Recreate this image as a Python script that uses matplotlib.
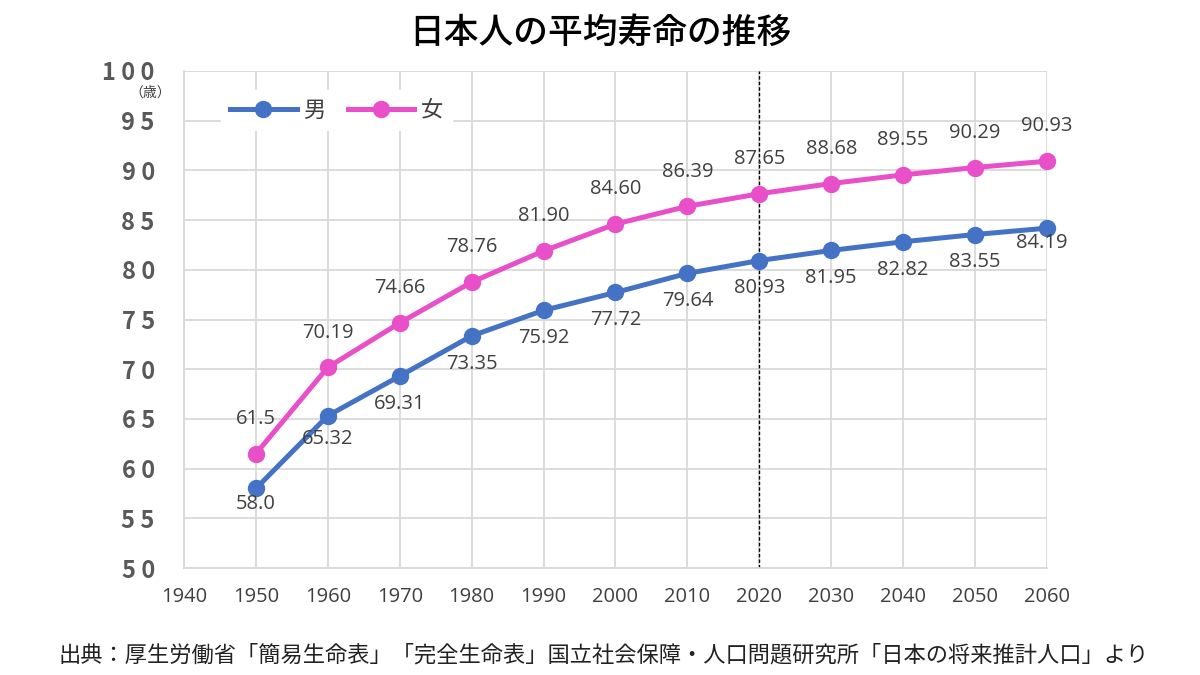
import matplotlib
matplotlib.use("Agg")
import matplotlib.pyplot as plt

plt.rcParams['font.family'] = ['Noto Sans CJK JP', 'DejaVu Sans']

years = [1950, 1960, 1970, 1980, 1990, 2000, 2010, 2020, 2030, 2040, 2050, 2060]
male = [58.0, 65.32, 69.31, 73.35, 75.92, 77.72, 79.64, 80.93, 81.95, 82.82, 83.55, 84.19]
female = [61.5, 70.19, 74.66, 78.76, 81.90, 84.60, 86.39, 87.65, 88.68, 89.55, 90.29, 90.93]
male_labels = ["58.0", "65.32", "69.31", "73.35", "75.92", "77.72", "79.64", "80.93", "81.95", "82.82", "83.55", "84.19"]
female_labels = ["61.5", "70.19", "74.66", "78.76", "81.90", "84.60", "86.39", "87.65", "88.68", "89.55", "90.29", "90.93"]
x_ticks = list(range(1940, 2061, 10))
y_ticks = list(range(50, 101, 5))

blue = '#4472C4'
pink = '#E84FC8'
grid = '#D9D9D9'
num_font = ['Open Sans', 'DejaVu Sans']

fig = plt.figure(figsize=(12, 6.75), dpi=100)
ax = fig.add_axes([184/1200, 1 - 568/675, (1047-184)/1200, (568-71)/675])

ax.set_xlim(1940, 2060)
ax.set_ylim(50, 100)
ax.set_xticks(x_ticks)
ax.set_yticks(y_ticks)
ax.set_xticklabels([str(v) for v in x_ticks], fontsize=14.5, color='#404040', family=num_font)
ax.set_yticklabels([" ".join(str(v)) for v in y_ticks], fontsize=17, color='#595959', fontweight='bold')
ax.tick_params(axis='both', length=0)
ax.tick_params(axis='x', pad=14)
ax.tick_params(axis='y', pad=21)
ax.grid(True, color=grid, linewidth=1.3)
ax.set_axisbelow(True)
for s in ax.spines.values():
    s.set_visible(False)
ax.spines['left'].set_visible(True)
ax.spines['left'].set_color(grid)
ax.spines['left'].set_linewidth(1.3)
ax.spines['bottom'].set_visible(True)
ax.spines['bottom'].set_color(grid)
ax.spines['bottom'].set_linewidth(1.3)

ax.axvline(2020, color='black', linestyle=(0, (2.5, 1.5)), linewidth=1.0, zorder=2)

lm, = ax.plot(years, male, color=blue, linewidth=3.6, marker='o', markersize=11.5, zorder=3, label='男', clip_on=False)
lf, = ax.plot(years, female, color=pink, linewidth=3.6, marker='o', markersize=11.5, zorder=3, label='女', clip_on=False)

for i, (x, y, t) in enumerate(zip(years, female, female_labels)):
    ax.annotate(t, (x, y), xytext=(0, 25), textcoords='offset points', ha='center', va='center',
                fontsize=14.5, color='#404040', family=num_font)
for i, (x, y, t) in enumerate(zip(years, male, male_labels)):
    if i == 0:
        off = (0, -11)
    elif i == 1:
        off = (0, -17)
    elif i == len(years) - 1:
        off = (-4, -11)
    else:
        off = (0, -20)
    ax.annotate(t, (x, y), xytext=off, textcoords='offset points', ha='center', va='center',
                fontsize=14.5, color='#404040', family=num_font)

leg = ax.legend(handles=[lm, lf], loc='upper left', bbox_to_anchor=(0.03, 0.985), ncol=2,
                frameon=True, fontsize=16, handlelength=3.0, columnspacing=1.0, handletextpad=0.3,
                borderpad=0.4)
leg.get_frame().set_facecolor('white')
leg.get_frame().set_edgecolor('white')
leg.get_frame().set_alpha(1)
for t in leg.get_texts():
    t.set_color('#404040')

fig.text(150/1200, 1 - 93/675, '（歳）', fontsize=10, color='#404040', ha='center', va='center')
fig.text(0.5, 1 - 33/675, '日本人の平均寿命の推移', fontsize=25, color='black', ha='center', va='center', fontweight='medium')
fig.text(604/1200, 1 - 655/675, '出典：厚生労働省「簡易生命表」「完全生命表」国立社会保障・人口問題研究所「日本の将来推計人口」より',
         fontsize=16, color='#222222', ha='center', va='center')

fig.savefig('out.png', dpi=100, facecolor='white')
